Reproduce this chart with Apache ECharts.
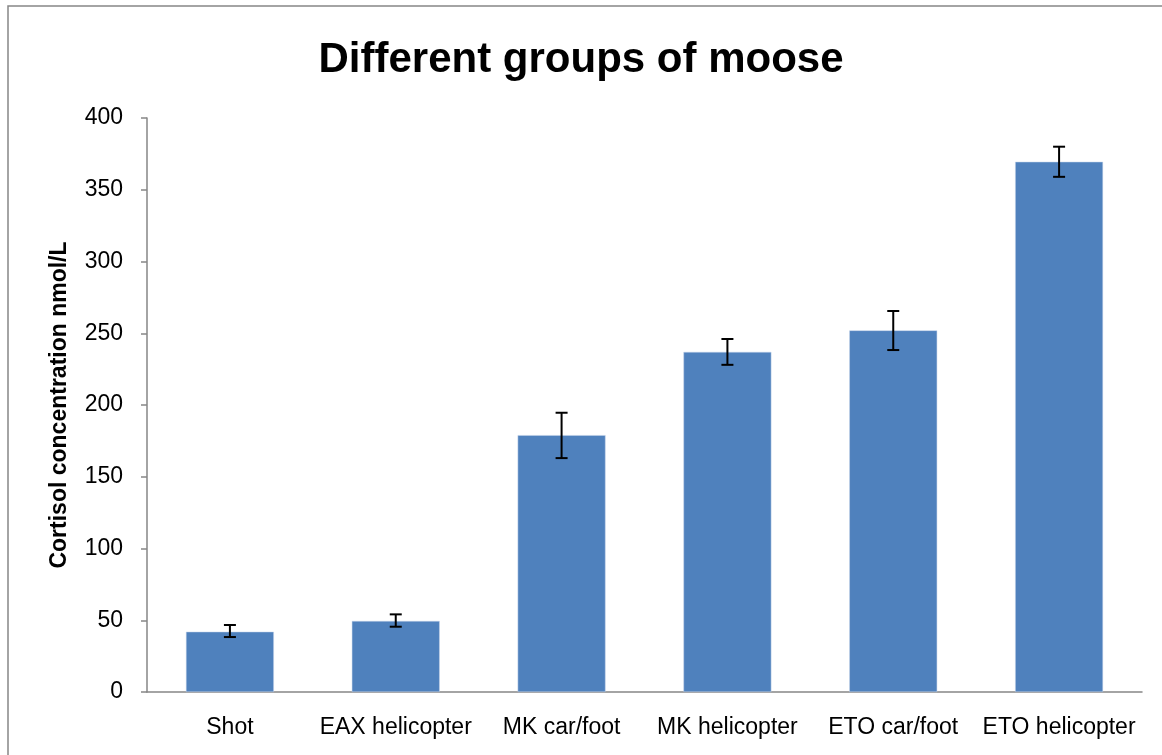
<!DOCTYPE html>
<html>
<head>
<meta charset="utf-8">
<script src="https://cdn.jsdelivr.net/npm/echarts@6/dist/echarts.min.js"></script>
<style>
  html, body { margin: 0; padding: 0; background: #fff; }
  #chart { width: 1162px; height: 755px; }
</style>
</head>
<body>
<div id="chart"></div>
<script>
  const categories = ['Shot', 'EAX helicopter', 'MK car/foot', 'MK helicopter', 'ETO car/foot', 'ETO helicopter']
  const cortisol = [42, 49.5, 179, 237, 252, 369.5]
  const errLow = [38.3, 45.5, 163, 228, 238.3, 359]
  const errHigh = [46.7, 54.1, 194.6, 246, 265.5, 380]

  const font = 'Liberation Sans'
  const chart = echarts.init(document.getElementById('chart'))

  const options = {
    animation: false,
    title: {
      text: 'Different groups of moose',
      left: 'center',
      top: 34,
      textStyle: { fontFamily: font, fontSize: 42, fontWeight: 'bold', color: '#000' },
    },
    graphic: [
      { type: 'rect', shape: { x: 8, y: 6, width: 1200, height: 800 }, style: { fill: 'none', stroke: '#868686', lineWidth: 1.5 }, silent: true },
    ],
    grid: { left: 147, top: 118, right: 20, bottom: 63 },
    xAxis: {
      type: 'category',
      data: categories,
      axisLine: { lineStyle: { color: '#868686', width: 1.5 } },
      axisTick: { show: false },
      axisLabel: { color: '#000', fontFamily: font, fontSize: 23, margin: 24, interval: 0 },
      splitLine: { show: false },
    },
    yAxis: {
      type: 'value',
      min: 0,
      max: 400,
      interval: 50,
      name: 'Cortisol concentration nmol/L',
      nameLocation: 'middle',
      nameGap: 76,
      nameTextStyle: { color: '#000', fontFamily: font, fontSize: 23, fontWeight: 'bold' },
      axisLine: { show: true, lineStyle: { color: '#868686', width: 1.5 } },
      axisTick: { show: true, inside: false, length: 6, lineStyle: { color: '#868686', width: 1.5 } },
      axisLabel: { color: '#000', fontFamily: font, fontSize: 23, margin: 24 },
      splitLine: { show: false },
    },
    series: [
      {
        type: 'bar',
        data: cortisol,
        barWidth: '53%',
        itemStyle: { color: '#4f81bd', borderColor: '#c6d5ea', borderWidth: 0.5 },
      },
      {
        type: 'custom',
        data: categories.map((c, i) => [i, errLow[i], errHigh[i]]),
        z: 10,
        renderItem(params, api) {
          const lo = api.coord([api.value(0), api.value(1)])
          const hi = api.coord([api.value(0), api.value(2)])
          const x = lo[0]
          const cap = 6
          const style = { stroke: '#000', lineWidth: 2 }
          return {
            type: 'group',
            children: [
              { type: 'line', shape: { x1: x, y1: lo[1], x2: x, y2: hi[1] }, style },
              { type: 'line', shape: { x1: x - cap, y1: lo[1], x2: x + cap, y2: lo[1] }, style },
              { type: 'line', shape: { x1: x - cap, y1: hi[1], x2: x + cap, y2: hi[1] }, style },
            ],
          }
        },
      },
    ],
  }
  chart.setOption(options)
</script>
</body>
</html>
